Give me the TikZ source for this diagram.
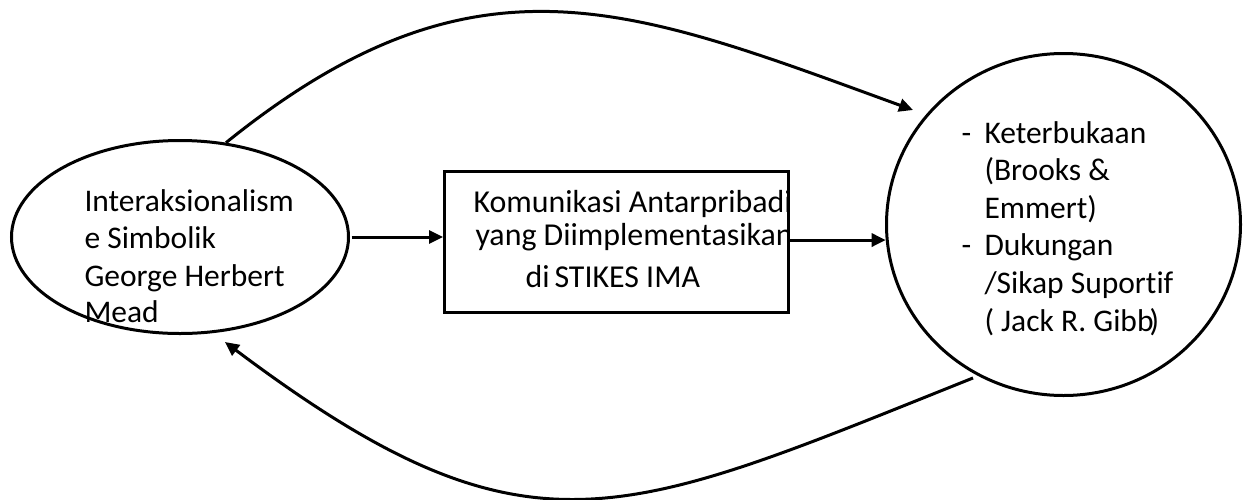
\documentclass[tikz,border=0pt]{standalone}
\usepackage{fontspec}
\setmainfont{Carlito}[Ligatures={NoCommon}]
\usetikzlibrary{shapes.geometric,arrows.meta}
\begin{document}
\begin{tikzpicture}[x=1pt,y=-1pt, line width=3pt,
  txt/.style={anchor=base west, inner sep=0pt, font=\fontsize{31.5}{37.6}\selectfont},
  btxt/.style={anchor=base west, inner sep=0pt, font=\fontsize{31.9}{37.6}\selectfont},
  arr/.style={-{Triangle[length=14pt,width=13pt]}, line cap=butt}]
\useasboundingbox (0,0) rectangle (1245,499);
\node[draw, ellipse, minimum width=337pt, minimum height=193pt, inner sep=0pt] (ell) at (180,237) {};
\node[rectangle, minimum width=344pt, minimum height=141pt, inner sep=0pt, outer sep=0pt] (box) at (616.5,242) {};
\node[draw, ellipse, minimum width=354pt, minimum height=342pt, inner sep=0pt] (circ) at (1063.5,224.5) {};
% ellipse text
\node[txt] (e1) at (83,211) {Interaksionalism};
\node[txt] (e2) at (83,248.5) {e Simbolik};
\node[txt] (e3) at (83,286) {George Herbert};
\node[txt] (e4) at (83,322.5) {Mead};
% box text (clipped by the box)
\begin{scope}
\clip (box.south west) rectangle (box.north east);
\node[btxt] (b1) at (472,212) {Komunikasi Antarpribadi};
\node[btxt] (b2) at (474,245) {yang Diimplementasikan};
\node[btxt] (b3) at (524,287) {di\kern5pt{}STIKES IMA};
\end{scope}
\draw (box.south west) rectangle (box.north east);
% circle text
\node[txt] (d1) at (960,143) {-};
\node[txt] (c1) at (983,143) {Keterbukaan};
\node[txt] (c2) at (983,180.6) {(Brooks \&};
\node[txt] (c3) at (983,218.2) {Emmert)};
\node[txt] (d2) at (960,255.8) {-};
\node[txt] (c4) at (983,255.8) {Dukungan};
\node[txt] (c5) at (983,293.4) {/Sikap Suportif};
\node[txt] (c6) at (983,331) {( Jack R. Gibb\kern-4pt)};
% connectors
\draw[arr] ([xshift=1.5pt]ell.east) -- ([xshift=-1.5pt]ell.east -| box.west);
\draw[arr] (box.east |- circ.185) -- (circ.185);
\coordinate (t1) at (913,110);
\draw[arr] (ell.64) .. controls (476,-59) and (631,7.4) .. (t1);
\coordinate (s2) at (973,378);
\coordinate (t2) at (225,342);
\draw[arr] (s2) .. controls (620,519) and (529,570) .. (t2);
\end{tikzpicture}
\end{document}
